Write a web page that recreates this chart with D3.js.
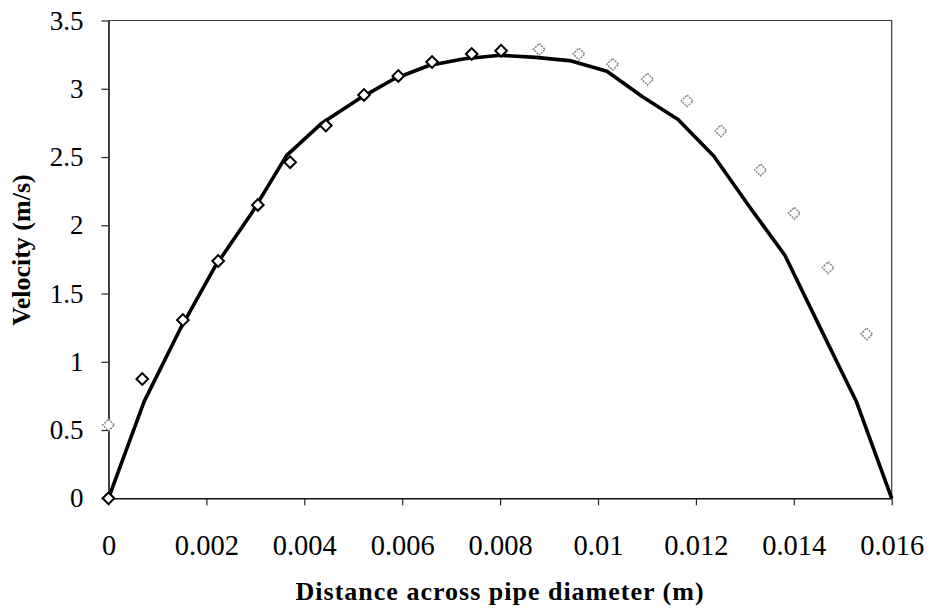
<!DOCTYPE html>
<html>
<head>
<meta charset="utf-8">
<script src="https://cdn.jsdelivr.net/npm/d3@7"></script>
<style>
  html, body { margin: 0; padding: 0; background: #fff; }
  svg { display: block; }
  svg text { font-family: "Liberation Serif", "Times New Roman", serif; fill: #000; }
</style>
</head>
<body>
<svg id="chart" width="931" height="614"></svg>
<script>
// Velocity profile across the pipe: model curve plus measured points
const profileX = [0, 0.000727, 0.001455, 0.002182, 0.002909, 0.003636, 0.004364, 0.005091,
  0.005818, 0.006545, 0.007273, 0.008, 0.008727, 0.009455, 0.010182, 0.010909,
  0.011636, 0.012364, 0.013091, 0.013818, 0.014545, 0.015273, 0.016];
const profileV = [0, 0.708, 1.233, 1.70, 2.08, 2.51, 2.75, 2.92, 3.07, 3.17, 3.22, 3.245,
  3.23, 3.204, 3.128, 2.941, 2.775, 2.508, 2.138, 1.780, 1.245, 0.713, 0];

// Measured points, first half of the traverse
const measuredX = [0, 0.00069, 0.00152, 0.00224, 0.00305, 0.00371, 0.00444, 0.00522,
  0.00592, 0.00661, 0.00742, 0.00802];
const measuredV = [0, 0.874, 1.306, 1.738, 2.149, 2.462, 2.730, 2.955, 3.094, 3.196, 3.255, 3.279];

// Measured points, second half of the traverse
const secondX = [0, 0.00880, 0.00961, 0.01030, 0.01101, 0.01182, 0.01251, 0.01332,
  0.01401, 0.01470, 0.01549];
const secondV = [0.537, 3.289, 3.255, 3.179, 3.070, 2.911, 2.691, 2.405, 2.088, 1.689, 1.204];

const xTickLabels = ["0", "0.002", "0.004", "0.006", "0.008", "0.01", "0.012", "0.014", "0.016"];
const yTickLabels = ["0", "0.5", "1", "1.5", "2", "2.5", "3", "3.5"];

const xTitle = "Distance across pipe diameter (m)";
const yTitle = "Velocity (m/s)";

const svg = d3.select("#chart");
const plot = { left: 108.5, right: 891.7, top: 20.5, bottom: 498.3 };

const x = d3.scaleLinear().domain([0, 0.016]).range([plot.left, plot.right]);
const y = d3.scaleLinear().domain([0, 3.5]).range([plot.bottom, plot.top]);

// Plot frame (top and right edges)
svg.append("path")
  .attr("d", `M${plot.left},${plot.top}H${plot.right}V${plot.bottom}`)
  .attr("fill", "none")
  .attr("stroke", "#3a3a3a")
  .attr("stroke-width", 1.2);

// X axis
const xAxis = svg.append("g")
  .attr("transform", `translate(0,${plot.bottom})`)
  .call(d3.axisBottom(x)
    .tickValues(xTickLabels.map(Number))
    .tickFormat((d, i) => xTickLabels[i])
    .tickSize(7)
    .tickSizeOuter(0));
xAxis.attr("font-family", null);
xAxis.select(".domain").attr("stroke", "#111").attr("stroke-width", 1.6);
xAxis.selectAll(".tick line").attr("stroke", "#222").attr("stroke-width", 1.2);
xAxis.selectAll(".tick text")
  .attr("y", 57).attr("dy", 0)
  .style("font-size", "28.5px");

// Y axis
const yAxis = svg.append("g")
  .attr("transform", `translate(${plot.left},0)`)
  .call(d3.axisLeft(y)
    .tickValues(yTickLabels.map(Number))
    .tickFormat((d, i) => yTickLabels[i])
    .tickSize(7)
    .tickPadding(18)
    .tickSizeOuter(0));
yAxis.attr("font-family", null);
yAxis.select(".domain").attr("stroke", "#111").attr("stroke-width", 1.6);
yAxis.selectAll(".tick line").attr("stroke", "#222").attr("stroke-width", 1.2);
yAxis.selectAll(".tick text")
  .style("font-size", "27px");

// Model curve
const line = d3.line().x(d => x(d[0])).y(d => y(d[1]));
svg.append("path")
  .datum(d3.zip(profileX, profileV))
  .attr("d", line)
  .attr("fill", "none")
  .attr("stroke", "#000")
  .attr("stroke-width", 3.6)
  .attr("stroke-linejoin", "round");

// Diamond markers
const diamond = d3.symbol().type(d3.symbolSquare).size(68);

svg.append("g").selectAll("path")
  .data(d3.zip(secondX, secondV))
  .join("path")
  .attr("d", diamond)
  .attr("transform", d => `translate(${x(d[0])},${y(d[1])}) rotate(45)`)
  .attr("fill", "#fff")
  .attr("stroke", "#8c8c8c")
  .attr("stroke-width", 1.6)
  .attr("stroke-dasharray", "2,1");

svg.append("g").selectAll("path")
  .data(d3.zip(measuredX, measuredV))
  .join("path")
  .attr("d", diamond)
  .attr("transform", d => `translate(${x(d[0])},${y(d[1])}) rotate(45)`)
  .attr("fill", "#fff")
  .attr("stroke", "#000")
  .attr("stroke-width", 2);

// Axis titles
svg.append("text")
  .attr("x", (plot.left + plot.right) / 2)
  .attr("y", 600)
  .attr("text-anchor", "middle")
  .style("font-weight", "bold")
  .style("font-size", "26px")
  .style("letter-spacing", "1px")
  .text(xTitle);

svg.append("text")
  .attr("transform", "translate(30,250) rotate(-90)")
  .attr("text-anchor", "middle")
  .style("font-weight", "bold")
  .style("font-size", "26px")
  .text(yTitle);
</script>
</body>
</html>
